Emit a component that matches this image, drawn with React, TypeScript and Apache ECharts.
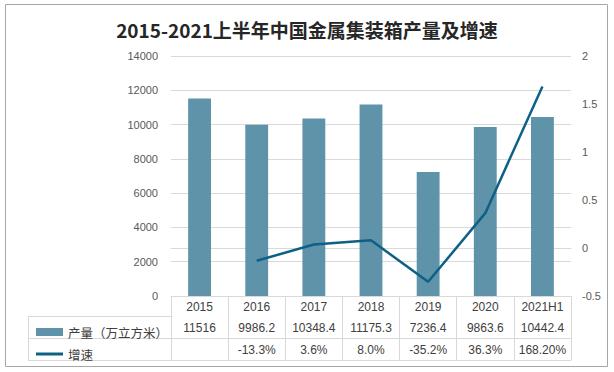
import React, { useEffect, useRef } from 'react';
import * as echarts from 'echarts';

const title = '2015-2021上半年中国金属集装箱产量及增速';
const categories = ['2015', '2016', '2017', '2018', '2019', '2020', '2021H1'];
const productionName = '产量（万立方米）';
const growthName = '增速';
const production = [11516, 9986.2, 10348.4, 11175.3, 7236.4, 9863.6, 10442.4];
const productionLabels = ['11516', '9986.2', '10348.4', '11175.3', '7236.4', '9863.6', '10442.4'];
const growth = [null, -0.133, 0.036, 0.08, -0.352, 0.363, 1.682];
const growthLabels = ['', '-13.3%', '3.6%', '8.0%', '-35.2%', '36.3%', '168.20%'];
const leftAxis = { min: 0, max: 14000, interval: 2000 };
const rightAxis = { min: -0.5, max: 2, interval: 0.5 };

const BAR = '#5f93a9';
const LINE = '#0e6185';
const TABLE_LINE = '#d9d9d9';
const TEXT = '#404040';
const AXIS_TEXT = '#595959';
const NUM_FONT = '"Liberation Sans", Arial, sans-serif';
const CJK_FONT = '"Noto Sans CJK SC", sans-serif';

export default function App() {
  const ref = useRef<HTMLDivElement>(null);
  useEffect(() => {
    document.body.style.margin = '0';
    if (!ref.current) return;
    const chart = echarts.init(ref.current, null, { renderer: 'svg' });
    const tableLabel = (margin: number, fmt: (v: string, i: number) => string) => ({
      show: true,
      margin,
      verticalAlign: 'middle',
      color: TEXT,
      fontSize: 12,
      fontFamily: NUM_FONT,
      interval: 0,
      formatter: fmt,
    });
    chart.setOption({
      animation: false,
      backgroundColor: '#ffffff',
      title: {
        text: title,
        left: 'center',
        top: 15,
        textStyle: { fontSize: 19, fontWeight: 'bold', color: '#262626', fontFamily: CJK_FONT },
      },
      legend: [
        {
          data: [{ name: productionName, icon: 'rect' }],
          left: 31,
          top: 320,
          itemWidth: 27,
          itemHeight: 8,
          selectedMode: false,
          textStyle: { fontSize: 12.5, color: TEXT, fontFamily: CJK_FONT, lineHeight: 14 },
        },
        {
          data: [{ name: growthName, icon: 'rect' }],
          left: 31,
          top: 342,
          itemWidth: 27,
          itemHeight: 3,
          selectedMode: false,
          textStyle: { fontSize: 12.5, color: TEXT, fontFamily: CJK_FONT, lineHeight: 14 },
        },
      ],
      grid: { left: 171, right: 43, top: 56, bottom: 76 },
      xAxis: [
        {
          type: 'category',
          data: categories,
          axisLine: { show: true, lineStyle: { color: TABLE_LINE } },
          axisTick: { show: true, length: 64, interval: 0, lineStyle: { color: TABLE_LINE } },
          axisLabel: tableLabel(11, (v: string) => v),
        },
        {
          type: 'category',
          data: categories,
          position: 'bottom',
          offset: 20,
          axisLine: { show: true, lineStyle: { color: TABLE_LINE } },
          axisTick: { show: false },
          axisLabel: tableLabel(12, (_v: string, i: number) => productionLabels[i]),
        },
        {
          type: 'category',
          data: categories,
          position: 'bottom',
          offset: 42,
          axisLine: { show: true, lineStyle: { color: TABLE_LINE } },
          axisTick: { show: false },
          axisLabel: tableLabel(12, (_v: string, i: number) => growthLabels[i]),
        },
        {
          type: 'category',
          data: categories,
          position: 'bottom',
          offset: 64,
          axisLine: { show: true, lineStyle: { color: TABLE_LINE } },
          axisTick: { show: false },
          axisLabel: { show: false },
        },
      ],
      yAxis: [
        {
          type: 'value',
          ...leftAxis,
          axisLine: { show: false },
          axisTick: { show: false },
          axisLabel: {
            color: AXIS_TEXT,
            fontSize: 11,
            fontFamily: NUM_FONT,
            margin: 13,
            formatter: (v: number) => String(v),
          },
          splitLine: { lineStyle: { color: TABLE_LINE } },
        },
        {
          type: 'value',
          ...rightAxis,
          axisLine: { show: false },
          axisTick: { show: false },
          axisLabel: {
            color: AXIS_TEXT,
            fontSize: 11,
            fontFamily: NUM_FONT,
            margin: 11,
            formatter: (v: number) => String(v),
          },
          splitLine: { show: false },
        },
      ],
      series: [
        {
          name: productionName,
          type: 'bar',
          data: production,
          barWidth: '40%',
          itemStyle: { color: BAR },
          xAxisIndex: 0,
          yAxisIndex: 0,
        },
        {
          name: growthName,
          type: 'line',
          data: growth,
          symbol: 'none',
          lineStyle: { color: LINE, width: 2.5 },
          itemStyle: { color: LINE },
          xAxisIndex: 0,
          yAxisIndex: 1,
          z: 5,
        },
      ],
      graphic: [
        {
          type: 'rect',
          shape: { x: 5.5, y: 4.5, width: 602, height: 362 },
          style: { fill: 'none', stroke: '#a6a6a6', lineWidth: 1 },
          silent: true,
        },
        { type: 'line', shape: { x1: 28, y1: 316.5, x2: 171, y2: 316.5 }, style: { stroke: TABLE_LINE, lineWidth: 1 } },
        { type: 'line', shape: { x1: 28, y1: 338.5, x2: 171, y2: 338.5 }, style: { stroke: TABLE_LINE, lineWidth: 1 } },
        { type: 'line', shape: { x1: 28, y1: 360.5, x2: 171, y2: 360.5 }, style: { stroke: TABLE_LINE, lineWidth: 1 } },
        { type: 'line', shape: { x1: 28.5, y1: 316, x2: 28.5, y2: 361 }, style: { stroke: TABLE_LINE, lineWidth: 1 } },
      ],
    });
    return () => chart.dispose();
  }, []);
  return <div ref={ref} style={{ width: 614, height: 372 }} />;
}
